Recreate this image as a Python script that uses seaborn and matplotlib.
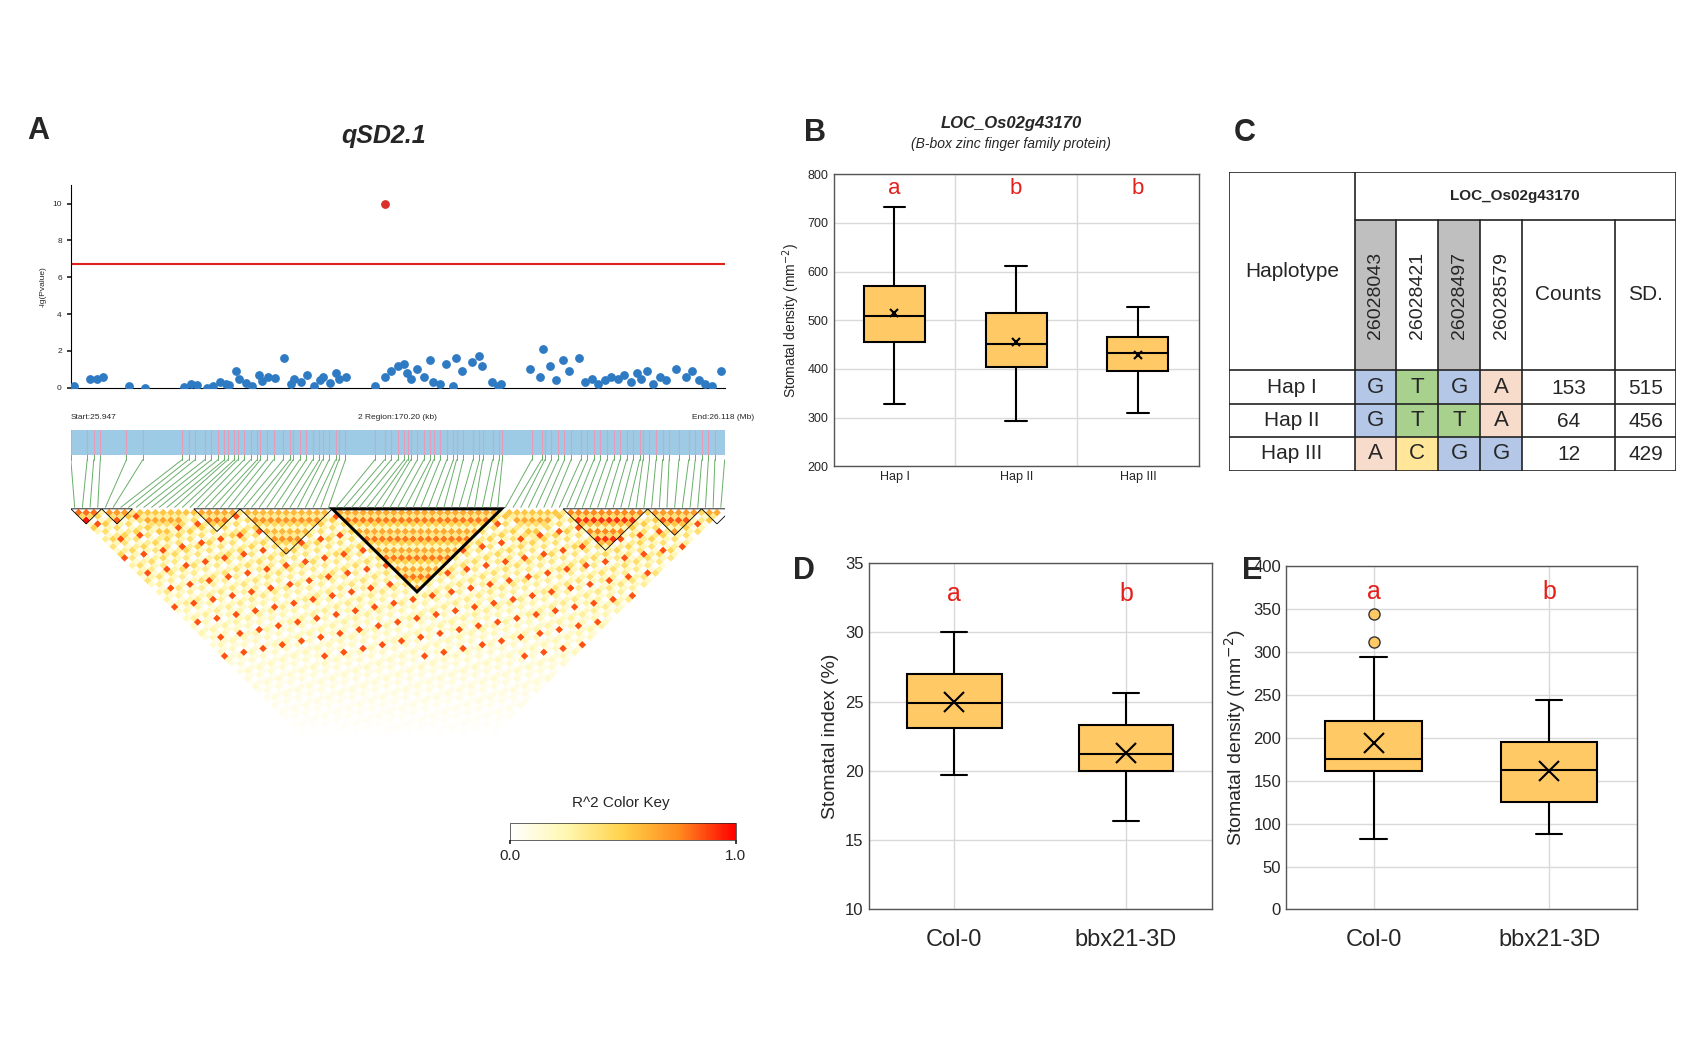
import numpy as np
import matplotlib
matplotlib.use("Agg")
import matplotlib.pyplot as plt
import seaborn as sns
from matplotlib.collections import PolyCollection
from matplotlib.colors import LinearSegmentedColormap
from matplotlib.patches import Rectangle, Polygon

sns.set_theme(style="white")
plt.rcParams['font.family'] = ['Liberation Sans', 'DejaVu Sans']

# ---------------- data ----------------
snp_x = [0.00,0.025,0.035,0.045,0.085,0.11,0.17,0.18,0.19,0.205,0.215,0.225,0.235,0.24,0.25,0.255,0.265,
         0.275,0.285,0.29,0.30,0.31,0.325,0.335,0.34,0.35,0.36,0.37,0.38,0.385,0.395,0.405,0.41,0.42,
         0.465,0.48,0.49,0.50,0.51,0.515,0.52,0.53,0.54,0.55,0.555,0.565,0.575,0.585,0.59,0.60,0.615,0.625,0.63,0.645,0.655,0.66,
         0.705,0.72,0.725,0.735,0.745,0.755,0.765,0.78,0.79,0.80,0.81,0.82,0.83,0.84,0.85,0.86,0.87,0.875,0.885,0.895,0.905,0.915,0.93,0.945,0.955,0.965,0.975,0.985,1.0]
snp_y = [0.1,0.5,0.45,0.6,0.1,0.0,0.05,0.2,0.15,0.0,0.1,0.3,0.2,0.15,0.9,0.5,0.25,
         0.1,0.7,0.35,0.6,0.55,1.6,0.2,0.5,0.3,0.7,0.1,0.4,0.6,0.25,0.8,0.45,0.6,
         0.1,0.6,0.9,1.2,1.3,0.8,0.5,1.0,0.6,1.5,0.3,0.2,1.3,0.1,1.6,0.9,1.4,1.7,1.2,0.3,0.1,0.2,
         1.0,0.6,2.1,1.2,0.4,1.5,0.9,1.6,0.3,0.5,0.2,0.4,0.6,0.5,0.7,0.3,0.8,0.5,0.9,0.2,0.6,0.4,1.0,0.6,0.9,0.4,0.2,0.1,0.9]
top_snp = (0.48, 10.0)
threshold = 6.7
yticks_A = [0, 2, 4, 6, 8, 10]
ld_blocks = [(0, 4, 0.75), (4, 8, 0.65), (8, 16, 0.5), (16, 22, 0.6), (22, 34, 0.55),
             (34, 56, 0.6), (56, 64, 0.5), (64, 75, 0.7), (75, 82, 0.65), (82, 86, 0.6)]
outlined_blocks = [(0, 4), (4, 8), (16, 22), (22, 34), (34, 56), (64, 75), (75, 82), (82, 86)]

hap_labels = ["Hap I", "Hap II", "Hap III"]
B_whislo = [328, 292, 310]; B_q1 = [455, 403, 395]; B_med = [508, 452, 432]
B_q3 = [570, 515, 465]; B_whishi = [733, 612, 528]; B_mean = [515, 456, 429]
B_letters = ["a", "b", "b"]

geno = ["Col-0", "bbx21-3D"]
D_whislo = [19.7, 16.4]; D_q1 = [23.1, 20.0]; D_med = [24.9, 21.2]
D_q3 = [27.0, 23.3]; D_whishi = [30.0, 25.6]; D_mean = [25.0, 21.3]
E_whislo = [82, 88]; E_q1 = [162, 125]; E_med = [176, 163]
E_q3 = [220, 195]; E_whishi = [294, 244]; E_mean = [194, 162]
E_fliers = [[312, 344], []]
DE_letters = ["a", "b"]

snp_ids = ["26028043", "26028421", "26028497", "26028579"]
hap_alleles = [["G", "T", "G", "A"], ["G", "T", "T", "A"], ["A", "C", "G", "G"]]
hap_counts = [153, 64, 12]
hap_sd = [515, 456, 429]

# ---------------- figure ----------------
W, H = 1560.0, 953.0
fig = plt.figure(figsize=(17, 10.38), dpi=100)
def rect(x0, y0, x1, y1):
    return [x0 / W, 1 - y1 / H, (x1 - x0) / W, (y1 - y0) / H]

BOX = "#FFC965"

# Panel A scatter
axA = fig.add_axes(rect(65, 170, 665, 356))
axA.scatter(snp_x, snp_y, s=28, color="#2E7BC4", zorder=3)
axA.scatter([top_snp[0]], [top_snp[1]], s=28, color="#D9302C", zorder=3)
axA.axhline(threshold, color="#E0201B", lw=1.5)
axA.set_xlim(-0.005, 1.005); axA.set_ylim(0, 11)
axA.set_yticks(yticks_A)
axA.tick_params(axis='y', labelsize=6, length=3, left=True)
axA.set_xticks([])
axA.set_ylabel("-lg(Pvalue)", fontsize=6)
for s in ["top", "right"]:
    axA.spines[s].set_visible(False)
axA.spines["left"].set_color("black"); axA.spines["bottom"].set_color("black")
axA.spines["left"].set_linewidth(0.8); axA.spines["bottom"].set_linewidth(0.8)
fig.text(25 / W, 1 - 120 / H, "A", fontsize=22, fontweight="bold", va="center")
fig.text(352 / W, 1 - 125 / H, "qSD2.1", fontsize=18, fontweight="bold", style="italic", ha="center", va="center")
fig.text(65 / W, 1 - 383 / H, "Start:25.947", fontsize=6, va="center")
fig.text(365 / W, 1 - 383 / H, "2 Region:170.20 (kb)", fontsize=6, va="center", ha="center")
fig.text(692 / W, 1 - 383 / H, "End:26.118 (Mb)", fontsize=6, va="center", ha="right")

# Gene bar + connectors + LD
n = len(snp_x)
axL = fig.add_axes(rect(65, 393, 665, 770))
axL.set_xlim(0, n); axL.set_ylim(-43.7, 10.7)
axL.axis("off")
bar_y0, bar_y1 = 7.1, 10.4
axL.add_patch(Rectangle((0, bar_y0), n, bar_y1 - bar_y0, color="#9DCBE6", lw=0))
for xv in snp_x:
    axL.plot([xv * n] * 2, [bar_y0, bar_y1], color="#E89BB8", lw=0.8)
for i, xv in enumerate(snp_x):
    axL.plot([xv * n, xv * n], [bar_y0, bar_y0 - 0.6], color="#6AAE6A", lw=0.7)
    axL.plot([xv * n, i + 0.5], [bar_y0 - 0.6, 0.2], color="#6AAE6A", lw=0.7)

def ld_value(i, j):
    for a, b, v in ld_blocks:
        if a <= i < b and a <= j < b:
            return min(1.0, v * (0.35 + 0.95 * ((i * 7 + j * 3) % 5) / 4))
    d = j - i
    base = max(0.0, 0.55 - 0.009 * d) * (((i * 5 + j * 11) % 7) / 6)
    if (i * 3 + j * 2) % 13 == 0 and d < 40:
        base = 0.85
    return base

polys, vals = [], []
for i in range(n):
    for j in range(i + 1, n):
        cx = (i + j + 1) / 2.0
        cy = -(j - i) / 2.0
        polys.append([(cx - 0.5, cy), (cx, cy + 0.5), (cx + 0.5, cy), (cx, cy - 0.5)])
        vals.append(ld_value(i, j))
cmap = LinearSegmentedColormap.from_list("ld", ["#FFFFFF", "#FFF7B0", "#FFD24A", "#FF8A1E", "#FF0000"])
pc = PolyCollection(polys, array=np.array(vals), cmap=cmap, edgecolors="none")
pc.set_clim(0, 1)
axL.add_collection(pc)
for a, b in outlined_blocks:
    lw = 2.2 if (b - a) > 15 else 0.6
    axL.add_patch(Polygon([(a, 0), (b, 0), ((a + b) / 2, -(b - a) / 2)], closed=True,
                          fill=False, edgecolor="black", lw=lw))

cax = fig.add_axes(rect(468, 756, 675, 771))
cb = fig.colorbar(pc, cax=cax, orientation="horizontal", ticks=[0, 1])
cb.ax.set_xticklabels(["0.0", "1.0"], fontsize=11)
cb.ax.tick_params(length=3)
cb.outline.set_linewidth(0.5)
fig.text(570 / W, 1 - 737 / H, "R^2 Color Key", fontsize=11, ha="center", va="center")

def make_stats(lo, q1, med, q3, hi, mean, labels, fliers=None):
    st = []
    for k in range(len(lo)):
        st.append(dict(whislo=lo[k], q1=q1[k], med=med[k], q3=q3[k], whishi=hi[k],
                       mean=mean[k], label=labels[k], fliers=(fliers[k] if fliers else [])))
    return st

def box_axes(ax, stats, width, msize, capw):
    ax.bxp(stats, showmeans=True, patch_artist=True, widths=width, showfliers=True,
           boxprops=dict(facecolor=BOX, edgecolor="black", lw=1.5),
           medianprops=dict(color="black", lw=1.5),
           whiskerprops=dict(color="black", lw=1.5),
           capprops=dict(color="black", lw=1.5), capwidths=capw,
           meanprops=dict(marker="x", markeredgecolor="black", markersize=msize, markeredgewidth=1.5),
           flierprops=dict(marker="o", markerfacecolor=BOX, markeredgecolor="#333333", markersize=8))
    ax.set_facecolor("white")
    for s in ax.spines.values():
        s.set_visible(True); s.set_color("#555555"); s.set_linewidth(1)
    ax.grid(True, color="#D9D9D9", lw=1)
    ax.set_axisbelow(True)

# Panel B
axB = fig.add_axes(rect(765, 160, 1100, 428))
box_axes(axB, make_stats(B_whislo, B_q1, B_med, B_q3, B_whishi, B_mean, hap_labels), 0.5, 6, 0.18)
axB.set_ylim(200, 800); axB.set_yticks(range(200, 801, 100))
axB.set_xlim(0.5, 3.5)
axB.set_xticks([1.5, 2.5], minor=True)
axB.grid(False, axis="x", which="major"); axB.grid(True, axis="x", which="minor", color="#D9D9D9")
axB.tick_params(labelsize=9, length=0, which="both")
axB.set_ylabel("Stomatal density (mm$^{-2}$)", fontsize=10)
for k, L in enumerate(B_letters):
    axB.text(k + 1, 770, L, color="#E3201B", fontsize=16, ha="center", va="center")
fig.text(738 / W, 1 - 122 / H, "B", fontsize=22, fontweight="bold", va="center")
fig.text(928 / W, 1 - 113 / H, "LOC_Os02g43170", fontsize=12, fontweight="bold", style="italic", ha="center", va="center")
fig.text(928 / W, 1 - 132 / H, "(B-box zinc finger family protein)", fontsize=10, style="italic", ha="center", va="center")

# Panel C table
axC = fig.add_axes(rect(1128, 158, 1538, 432))
axC.set_xlim(1128, 1538); axC.set_ylim(432, 158); axC.axis("off")
colx = [1128, 1243, 1281, 1320, 1358, 1397, 1482, 1538]
rowy = [158, 202, 340, 371, 401, 432]
snp_bg = ["#BFBFBF", "white", "#BFBFBF", "white"]
allele_col = {"G": "#B4C7E7", "T": "#A9D18E", "A": "#F8DCCB", "C": "#FFE699"}
for c in range(4):
    axC.add_patch(Rectangle((colx[c + 1], rowy[1]), colx[c + 2] - colx[c + 1], rowy[2] - rowy[1], color=snp_bg[c], lw=0))
    axC.text((colx[c + 1] + colx[c + 2]) / 2, (rowy[1] + rowy[2]) / 2, snp_ids[c], rotation=90,
             ha="center", va="center", fontsize=14)
for r in range(3):
    y0, y1 = rowy[r + 2], rowy[r + 3]
    ym = (y0 + y1) / 2
    axC.text((colx[0] + colx[1]) / 2, ym, hap_labels[r], ha="center", va="center", fontsize=15)
    for c in range(4):
        al = hap_alleles[r][c]
        axC.add_patch(Rectangle((colx[c + 1], y0), colx[c + 2] - colx[c + 1], y1 - y0, color=allele_col[al], lw=0))
        axC.text((colx[c + 1] + colx[c + 2]) / 2, ym, al, ha="center", va="center", fontsize=16)
    axC.text((colx[5] + colx[6]) / 2, ym + 1, str(hap_counts[r]), ha="center", va="center", fontsize=15)
    axC.text((colx[6] + colx[7]) / 2, ym + 1, str(hap_sd[r]), ha="center", va="center", fontsize=15)
axC.text((colx[0] + colx[1]) / 2, 249, "Haplotype", ha="center", va="center", fontsize=15)
axC.text((colx[5] + colx[6]) / 2, 270, "Counts", ha="center", va="center", fontsize=15)
axC.text((colx[6] + colx[7]) / 2, 270, "SD.", ha="center", va="center", fontsize=15)
axC.text((colx[1] + colx[7]) / 2, 180, "LOC_Os02g43170", ha="center", va="center", fontsize=11, fontweight="bold")
lk = dict(color="#222222", lw=1.2)
axC.plot([colx[0], colx[-1], colx[-1], colx[0], colx[0]], [rowy[0], rowy[0], rowy[-1], rowy[-1], rowy[0]], **lk)
axC.plot([colx[1], colx[-1]], [rowy[1]] * 2, **lk)
for yy in rowy[2:5]:
    axC.plot([colx[0], colx[-1]], [yy] * 2, **lk)
axC.plot([colx[1]] * 2, [rowy[0], rowy[-1]], **lk)
for xx in colx[2:-1]:
    axC.plot([xx] * 2, [rowy[1], rowy[-1]], **lk)
fig.text(1132 / W, 1 - 122 / H, "C", fontsize=22, fontweight="bold", va="center")

# Panel D
axD = fig.add_axes(rect(797, 517, 1112, 835))
box_axes(axD, make_stats(D_whislo, D_q1, D_med, D_q3, D_whishi, D_mean, geno), 0.55, 14, 0.15)
axD.set_ylim(10, 35); axD.set_yticks(range(10, 36, 5)); axD.set_xlim(0.5, 2.5)
axD.tick_params(axis="y", labelsize=12, length=0)
axD.tick_params(axis="x", labelsize=17, length=0, pad=14)
axD.set_ylabel("Stomatal index (%)", fontsize=14)
for k, L in enumerate(DE_letters):
    axD.text(k + 1, 32.8, L, color="#E3201B", fontsize=18, ha="center", va="center")
fig.text(728 / W, 1 - 524 / H, "D", fontsize=22, fontweight="bold", va="center")

# Panel E
axE = fig.add_axes(rect(1180, 520, 1502, 835))
box_axes(axE, make_stats(E_whislo, E_q1, E_med, E_q3, E_whishi, E_mean, geno, E_fliers), 0.55, 14, 0.15)
axE.set_ylim(0, 400); axE.set_yticks(range(0, 401, 50)); axE.set_xlim(0.5, 2.5)
axE.tick_params(axis="y", labelsize=12, length=0)
axE.tick_params(axis="x", labelsize=17, length=0, pad=14)
axE.set_ylabel("Stomatal density (mm$^{-2}$)", fontsize=14)
for k, L in enumerate(DE_letters):
    axE.text(k + 1, 370, L, color="#E3201B", fontsize=18, ha="center", va="center")
fig.text(1140 / W, 1 - 524 / H, "E", fontsize=22, fontweight="bold", va="center")

fig.savefig("out.png", dpi=100, facecolor="white")
